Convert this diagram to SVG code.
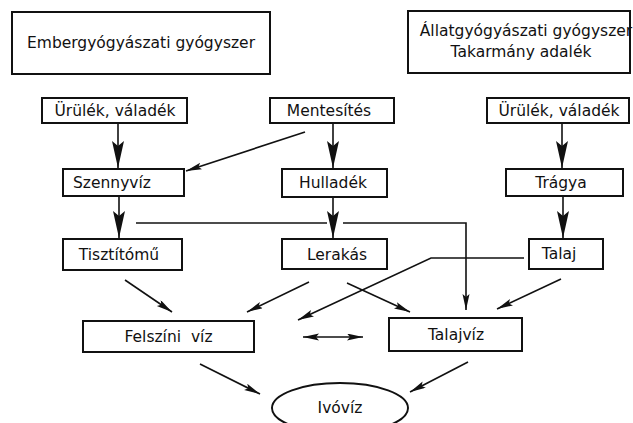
<svg xmlns="http://www.w3.org/2000/svg" width="633" height="423" viewBox="0 0 633 423">
<style>
.box{fill:#fff;stroke:#111;stroke-width:2}
.t{font-family:"DejaVu Sans","Liberation Sans",sans-serif;font-size:15.5px;fill:#111;text-anchor:middle}
.ln{fill:none;stroke:#111;stroke-width:1.6}
.big{marker-end:url(#big)}
.sm{marker-end:url(#sm)}
</style>
<defs>
<marker id="big" markerUnits="userSpaceOnUse" markerWidth="30" markerHeight="14" refX="27" refY="6" orient="auto">
<path d="M0,0 L27,6 L0,12 L5,6 z" fill="#111"/>
</marker>
<marker id="sm" markerUnits="userSpaceOnUse" markerWidth="17" markerHeight="8" refX="16" refY="3.5" orient="auto-start-reverse">
<path d="M0,0 L16,3.5 L0,7 L3,3.5 z" fill="#111"/>
</marker>
</defs>
<g id="connectors">
<line class="ln big" x1="118" y1="123" x2="118" y2="168"/>
<line class="ln big" x1="333" y1="123" x2="333" y2="168"/>
<line class="ln big" x1="562" y1="123" x2="562" y2="168"/>
<line class="ln big" x1="119" y1="196" x2="119" y2="238"/>
<line class="ln big" x1="333" y1="197" x2="333" y2="238"/>
<line class="ln big" x1="563" y1="196" x2="563" y2="238"/>
<line class="ln sm" x1="305" y1="132" x2="186" y2="171"/>
<line class="ln" x1="136" y1="223" x2="327" y2="223"/>
<polyline class="ln sm" points="343,223 466,223 466,310"/>
<polyline class="ln sm" points="524,258 431,258 298,320"/>
<line class="ln sm" x1="125" y1="280" x2="172" y2="312"/>
<line class="ln sm" x1="309" y1="282" x2="247" y2="312"/>
<line class="ln sm" x1="347" y1="283" x2="410" y2="312"/>
<line class="ln sm" x1="561" y1="279" x2="497" y2="309"/>
<line class="ln sm" x1="303" y1="337" x2="363" y2="337" marker-start="url(#sm)"/>
<line class="ln sm" x1="200" y1="364" x2="260" y2="394"/>
<line class="ln sm" x1="468" y1="362" x2="410" y2="392"/>
</g>
<g id="ember"><rect class="box" x="12" y="12" width="258" height="62"/><text class="t" x="141" y="48">Embergyógyászati gyógyszer</text></g>
<g id="allat"><rect class="box" x="408" y="11" width="222" height="62"/><text class="t" x="526" y="36">Állatgyógyászati gyógyszer</text><text class="t" x="521" y="57">Takarmány adalék</text></g>
<g id="urulek1"><rect class="box" x="42" y="98" width="145" height="25"/><text class="t" x="115" y="116">Ürülék, váladék</text></g>
<g id="mentesites"><rect class="box" x="270" y="98" width="124" height="25"/><text class="t" x="329" y="116">Mentesítés</text></g>
<g id="urulek2"><rect class="box" x="487" y="98" width="142" height="25"/><text class="t" x="559" y="116">Ürülék, váladék</text></g>
<g id="szennyviz"><rect class="box" x="63" y="169" width="121" height="27"/><text class="t" x="112" y="188">Szennyvíz</text></g>
<g id="hulladek"><rect class="box" x="282" y="169" width="105" height="28"/><text class="t" x="333" y="188">Hulladék</text></g>
<g id="tragya"><rect class="box" x="506" y="169" width="117" height="27"/><text class="t" x="561" y="188">Trágya</text></g>
<g id="tisztitomu"><rect class="box" x="63" y="239" width="119" height="31"/><text class="t" x="119" y="260">Tisztítómű</text></g>
<g id="lerakas"><rect class="box" x="282" y="239" width="105" height="30"/><text class="t" x="337" y="260">Lerakás</text></g>
<g id="talaj"><rect class="box" x="529" y="239" width="74" height="30"/><text class="t" x="559" y="259">Talaj</text></g>
<g id="felszini"><rect class="box" x="83" y="321" width="171" height="31"/><text class="t" x="168.5" y="342" xml:space="preserve">Felszíni  víz</text></g>
<g id="talajviz"><rect class="box" x="389" y="318" width="133" height="33"/><text class="t" x="456" y="340">Talajvíz</text></g>
<g id="ivoviz"><ellipse class="box" cx="340" cy="408" rx="68" ry="25"/><text class="t" x="340" y="413">Ivóvíz</text></g>
</svg>
